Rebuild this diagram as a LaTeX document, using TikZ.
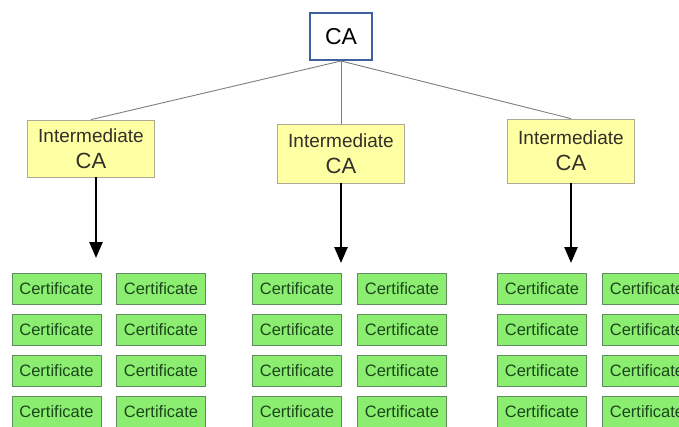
\documentclass[tikz,border=0pt]{standalone}
\usepackage{fontspec}
\setmainfont{Liberation Sans}
\usetikzlibrary{arrows.meta}
\definecolor{certfill}{RGB}{140,238,112}
\definecolor{certline}{RGB}{96,140,96}
\definecolor{certtext}{RGB}{28,70,28}
\definecolor{interfill}{RGB}{255,255,163}
\definecolor{interline}{RGB}{170,170,150}
\definecolor{rootline}{RGB}{62,96,160}
\definecolor{linkgrey}{RGB}{125,125,125}
\begin{document}
\begin{tikzpicture}[x=1pt,y=-1pt,
  rootbox/.style={draw=rootline, line width=2pt, fill=white, inner sep=0pt,
    minimum width=62pt, minimum height=47pt, font=\fontsize{23}{27}\selectfont},
  interbox/.style={draw=interline, line width=0.8pt, fill=interfill, inner sep=0pt,
    minimum width=127pt, align=center, text=black!85!olive,
    font=\fontsize{19}{26}\selectfont},
  certbox/.style={draw=certline, line width=1pt, fill=certfill, inner sep=0pt,
    minimum width=89pt, minimum height=31pt, text=certtext,
    font=\fontsize{16.5}{20}\selectfont},
  link/.style={draw=linkgrey, line width=0.9pt},
  down/.style={draw=black, line width=2.5pt, -{Triangle[length=16pt,width=13pt]}}
]
\useasboundingbox (0,0) rectangle (679,426);
\clip (0,0) rectangle (679,426);

% root authority
\node[rootbox] (ca) at (341,36.5) {CA};

% intermediate authorities
\newcommand{\interlabel}{Intermediate\\{\fontsize{22}{26}\selectfont CA}}
\node[interbox, minimum height=57pt] (i1) at (91,148.5) {\interlabel};
\node[interbox, minimum height=59pt] (i2) at (341,153.5) {\interlabel};
\node[interbox, minimum height=64pt] (i3) at (571,151) {\interlabel};

% links from the root
\draw[link] (ca.south) -- (i1.north);
\draw[link] (ca.south) -- (i2.north);
\draw[link] (ca.south) -- (i3.north);

% arrow ends above each group of certificates
\coordinate (t1) at (96,258);
\coordinate (t2) at (341,263);
\coordinate (t3) at (571,263);
\draw[down] (i1.south -| t1) -- (t1);
\draw[down] (i2.south -| t2) -- (t2);
\draw[down] (i3.south -| t3) -- (t3);

% end-entity certificates, two columns per group
\foreach \col/\x in {1/56.5, 2/161, 3/297, 4/402, 5/542, 6/647}{
  \foreach \row/\y in {1/288.5, 2/329.5, 3/370.5, 4/411.5}{
    \node[certbox] (c\col-\row) at (\x,\y) {Certificate};
  }
}
\end{tikzpicture}
\end{document}
